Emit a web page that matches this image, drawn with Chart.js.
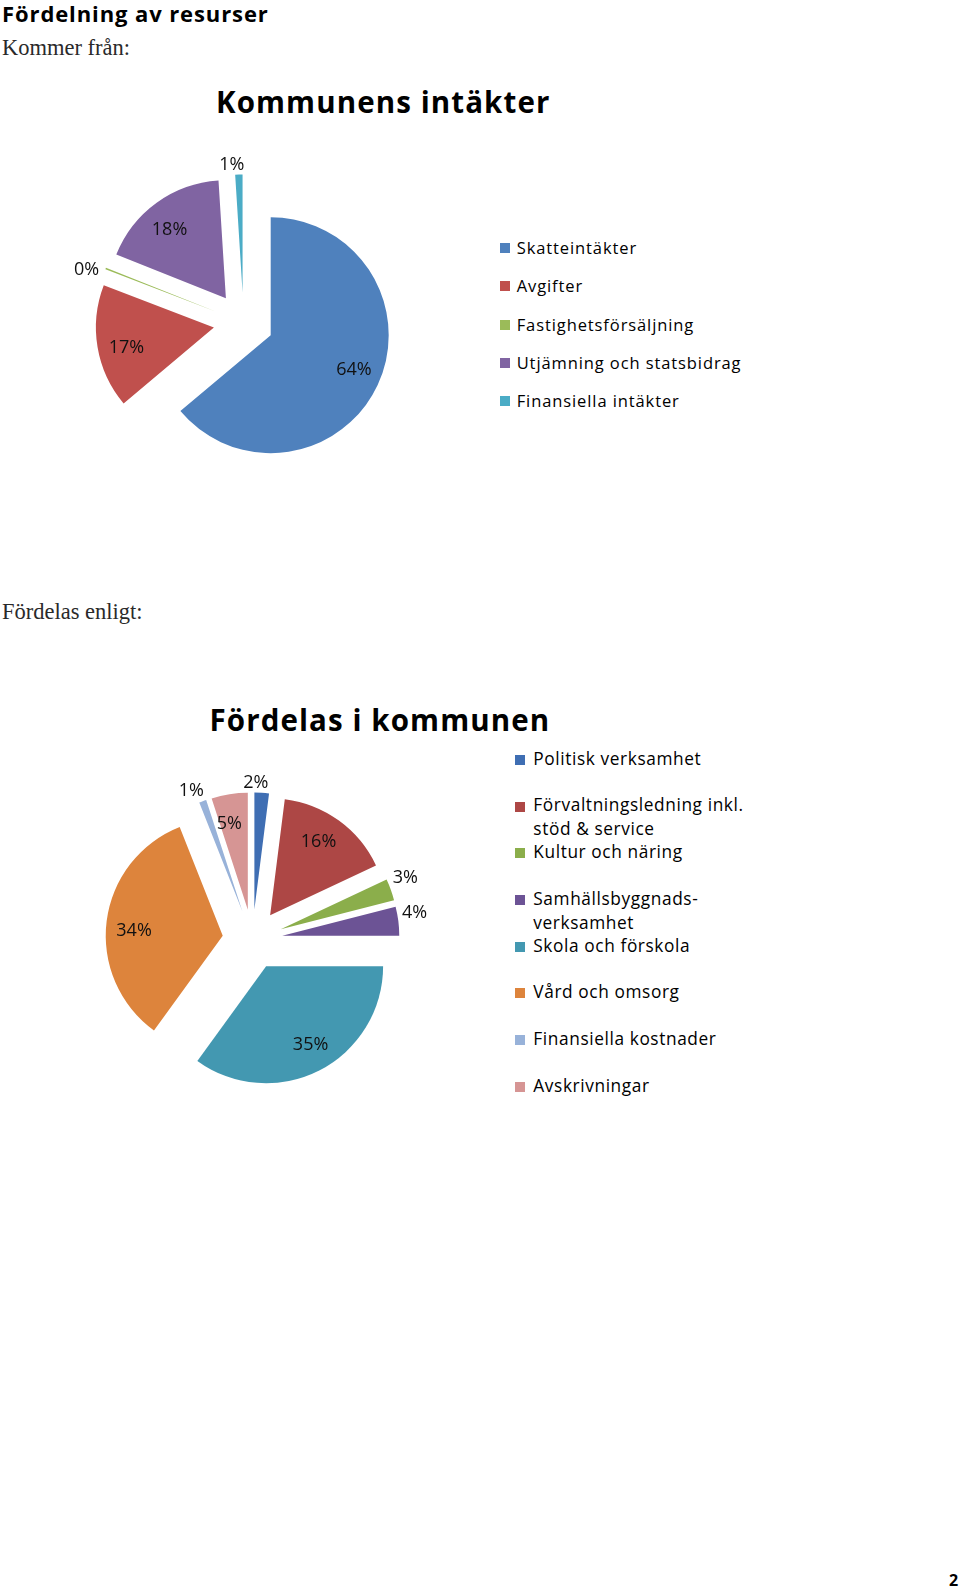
<!DOCTYPE html>
<html lang="sv">
<head>
<meta charset="utf-8">
<title>Fördelning av resurser</title>
<script src="https://cdn.jsdelivr.net/npm/chart.js@4.4.1/dist/chart.umd.min.js"></script>
<style>
  html, body { margin: 0; padding: 0; background: #fff; }
  body { width: 960px; height: 1591px; position: relative; overflow: hidden; font-family: 'Open Sans', sans-serif; color: #000; }
  .abs { position: absolute; white-space: nowrap; line-height: 1; }
  .head { left: 2px; top: 1.5px; font-size: 22px; font-weight: 700; letter-spacing: 0.9px; }
  .serif { left: 2px; font-family: 'Liberation Serif', serif; font-size: 22.5px; color: #2a2a2a; }
  .title { font-size: 29.5px; font-weight: 700; letter-spacing: 1.1px; }
  .box { position: absolute; width: 371px; height: 371px; }
  .legend { position: absolute; }
  .legend .item { position: absolute; left: 0; white-space: nowrap; }
  .legend .sw { position: absolute; left: 0; width: 10px; height: 10px; }
  .legend .tx { position: absolute; left: 0; }
  #lg1 { left: 500px; top: 238px; font-size: 16.5px; line-height: 20px; letter-spacing: 0.9px; }
  #lg1 .sw { top: 5px; }
  #lg1 .tx { left: 16.7px; }
  #lg2 { left: 515px; top: 746.8px; font-size: 17.3px; line-height: 24px; letter-spacing: 0.6px; }
  #lg2 .sw { top: 8.2px; }
  #lg2 .tx { left: 18.3px; }
  .pagenr { left: 949px; top: 1572px; font-size: 16px; font-weight: 700; }
</style>
</head>
<body>
<div class="abs head">Fördelning av resurser</div>
<div class="abs serif" style="top:36.5px">Kommer från:</div>
<div class="abs title" style="left:216px; top:87.1px">Kommunens intäkter</div>
<div class="box" style="left:58px; top:137px"><canvas id="intakter"></canvas></div>
<div class="legend" id="lg1"></div>

<div class="abs serif" style="top:601.3px">Fördelas enligt:</div>
<div class="abs title" style="left:209.5px; top:704.8px">Fördelas i kommunen</div>
<div class="box" style="left:67px; top:754px"><canvas id="fordelning"></canvas></div>
<div class="legend" id="lg2"></div>

<div class="abs pagenr">2</div>

<script>
// Kommunens intäkter (procent)
const intaktLabels = ['Skatteintäkter', 'Avgifter', 'Fastighetsförsäljning', 'Utjämning och statsbidrag', 'Finansiella intäkter'];
const intaktValues = [64, 17, 0.2, 18, 1];

// Fördelas i kommunen (procent)
const fordelLabels = [
  'Politisk verksamhet',
  ['Förvaltningsledning inkl.', 'stöd & service'],
  'Kultur och näring',
  ['Samhällsbyggnads-', 'verksamhet'],
  'Skola och förskola',
  'Vård och omsorg',
  'Finansiella kostnader',
  'Avskrivningar',
];
const fordelValues = [2, 16, 3, 4, 35, 34, 1, 5];

const intaktColors = ['#4f81bd', '#c0504d', '#9bbb59', '#8064a2', '#4bacc6'];
const fordelColors = ['#3f6eb3', '#ad4745', '#8bae4b', '#6c5395', '#4398b1', '#dd843c', '#98b2d9', '#d69594'];

// pull every slice out from the centre along its bisector
const explode = {
  id: 'explode',
  afterDatasetsUpdate(chart, args, opts) {
    chart.getDatasetMeta(0).data.forEach((arc) => {
      const mid = (arc.startAngle + arc.endAngle) / 2;
      arc.x += Math.cos(mid) * opts.distance;
      arc.y += Math.sin(mid) * opts.distance;
    });
  },
};

// percentage labels: inside for the big slices, just outside for the small ones
const pctLabels = {
  id: 'pctLabels',
  afterDatasetsDraw(chart, args, opts) {
    const { ctx } = chart;
    const values = chart.data.datasets[0].data;
    const total = values.reduce((s, v) => s + v, 0);
    ctx.save();
    ctx.font = `${opts.size}px "Open Sans"`;
    ctx.fillStyle = opts.color;
    ctx.textAlign = 'center';
    ctx.textBaseline = 'alphabetic';
    const cap = opts.size * 0.714;
    chart.getDatasetMeta(0).data.forEach((arc, i) => {
      const pct = Math.round((values[i] / total) * 100);
      const text = pct + '%';
      // Excel nudges its labels a little counter-clockwise
      const mid = (arc.startAngle + arc.endAngle) / 2 - opts.turn * Math.PI / 180;
      const dx = Math.cos(mid);
      const dy = Math.sin(mid);
      let r;
      if (pct >= opts.insideMin) {
        r = arc.outerRadius * opts.insideRatio;
      } else {
        const w = ctx.measureText(text).width;
        r = arc.outerRadius + opts.gap + Math.abs(dx) * w / 2 + Math.abs(dy) * cap / 2;
      }
      ctx.fillText(text, arc.x + dx * r, arc.y + dy * r + cap / 2);
    });
    ctx.restore();
  },
};

function pie(id, labels, values, colors, radius) {
  return new Chart(document.getElementById(id), {
    type: 'pie',
    data: {
      labels: labels.map((l) => (Array.isArray(l) ? l.join(' ') : l)),
      datasets: [{ data: values, backgroundColor: colors, borderWidth: 0, radius, clip: false }],
    },
    options: {
      responsive: true,
      maintainAspectRatio: false,
      animation: false,
      events: [],
      layout: { padding: 0 },
      plugins: {
        legend: { display: false },
        tooltip: { enabled: false },
        explode: { distance: 30 },
        pctLabels: { size: 18, color: '#111', insideMin: 5, insideRatio: 0.76, gap: 4, turn: 3 },
      },
    },
    plugins: [explode, pctLabels],
  });
}

function legend(id, labels, colors) {
  const el = document.getElementById(id);
  const step = id === 'lg1' ? 38.3 : 46.7;
  labels.forEach((lab, i) => {
    const lines = Array.isArray(lab) ? lab : [lab];
    const item = document.createElement('div');
    item.className = 'item';
    item.style.top = (i * step) + 'px';
    item.innerHTML = `<span class="sw" style="background:${colors[i]}"></span><span class="tx">${lines.join('<br>')}</span>`;
    el.appendChild(item);
  });
}

pie('intakter', intaktLabels, intaktValues, intaktColors, 118);
pie('fordelning', fordelLabels, fordelValues, fordelColors, 117);
legend('lg1', intaktLabels, intaktColors);
legend('lg2', fordelLabels, fordelColors);
</script>
</body>
</html>
